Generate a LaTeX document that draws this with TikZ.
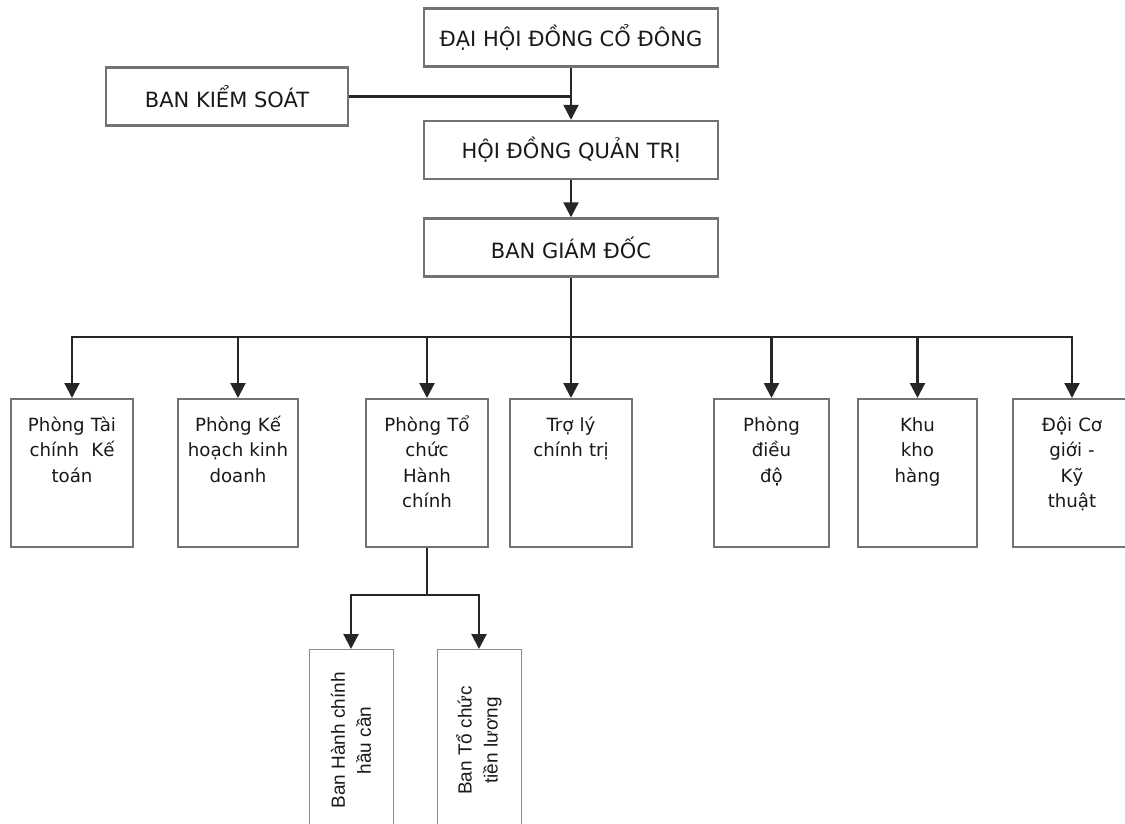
\documentclass[tikz,border=0pt]{standalone}
\usepackage{fontspec}
\setmainfont{DejaVu Sans}
\newfontfamily\arialfont{Liberation Sans}
\usetikzlibrary{arrows.meta}
\usetikzlibrary{positioning}

\begin{document}
\begin{tikzpicture}[x=1pt,y=-1pt,
    head/.style={draw=black!55,line width=2.4pt,minimum width=294pt,minimum height=58pt,
      inner sep=0pt,text=black!90,font=\fontsize{21}{24}\selectfont},
    dept/.style={draw=black!55,line width=2.4pt,anchor=north,inner sep=0pt,align=center,
      text height=32pt,text depth=116pt,text=black!90,font=\fontsize{18.2}{25.5}\selectfont},
    subdept/.style={draw=black!45,line width=0.8pt,rotate=90,anchor=east,inner sep=0pt,
      minimum width=182pt,minimum height=84pt,align=center,text=black!90,
      font=\arialfont\fontsize{19}{26}\selectfont},
    link/.style={draw=black!85,line width=2.2pt},
    arr/.style={link,-{Triangle[width=15pt,length=15pt]}}]
  \useasboundingbox (0,0) rectangle (1125,824);

  % top of the chart
  \node[head] (dhdcd) at (571,37.5) {ĐẠI HỘI ĐỒNG CỔ ĐÔNG};
  \node[head,minimum width=242pt] (bks) at (227,96.5) {BAN KIỂM SOÁT};
  \node[head] (hdqt) at (571,150) {HỘI ĐỒNG QUẢN TRỊ};
  \node[head] (bgd) at (571,247.5) {BAN GIÁM ĐỐC};

  % departments
  \node[dept,text width=122pt] (ptckt) at (72,398)   {Phòng Tài\\chính\ \ Kế\\toán};
  \node[dept,text width=120pt] (pkhkd) at (238,398)  {Phòng Kế\\hoạch kinh\\doanh};
  \node[dept,text width=122pt] (ptchc) at (427,398)  {Phòng Tổ\\chức\\Hành\\chính};
  \node[dept,text width=122pt] (tlct) at (571,398)   {Trợ lý\\chính trị};
  \node[dept,text width=115pt] (pdd) at (771.5,398)  {Phòng\\điều\\độ};
  \node[dept,text width=119pt] (kkh) at (917.5,398)  {Khu\\kho\\hàng};
  \node[dept,text width=118pt] (dcg) at (1072,398)   {Đội Cơ\\giới -\\Kỹ\\thuật};

  % under Phong To chuc Hanh chinh
  \node[subdept] (bhchc) at (351,649) {Ban Hành chính\\hầu cần};
  \node[subdept] (btctl) at (479,649) {Ban Tổ chức\\tiền lương};

  \coordinate (bus) at (571,337);
  \coordinate (split) at (427,595);

  \draw[arr] (dhdcd) -- (hdqt);
  \draw[link] (bks.east) -- (bks.east -| dhdcd.south);
  \draw[arr] (hdqt) -- (bgd);
  \draw[link] (bgd.south) -- (bus);
  \foreach \d in {ptckt,pkhkd,ptchc,tlct,pdd,kkh,dcg}
    \draw[arr] (bus) -| (\d.north);
  \draw[link] (ptchc.south) -- (split);
  \draw[arr] (split) -| (bhchc.east);
  \draw[arr] (split) -| (btctl.east);
\end{tikzpicture}
\end{document}
